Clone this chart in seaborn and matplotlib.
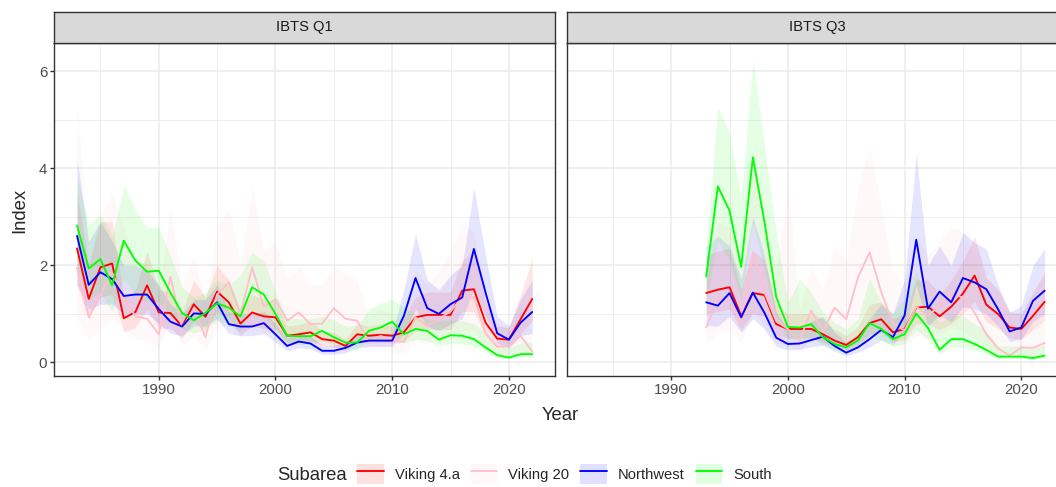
import numpy as np
import pandas as pd
import matplotlib
matplotlib.use('Agg')
import matplotlib.pyplot as plt
import seaborn as sns
from matplotlib.lines import Line2D
from matplotlib.patches import Patch
from matplotlib.legend_handler import HandlerTuple

# Subareas and colours (legend order)
subareas = ['Viking 4.a', 'Viking 20', 'Northwest', 'South']
colours = ['#FF0000', '#FFC0CB', '#0000FF', '#00FF00']

# ---- IBTS Q1, 1983-2022 ----
years_q1 = list(range(1983, 2023))

q1_viking4a = [2.35, 1.31, 1.96, 2.04, 0.91, 1.04, 1.59, 1.03, 1.02, 0.74,
               1.20, 0.94, 1.46, 1.24, 0.80, 1.03, 0.95, 0.93, 0.55, 0.58,
               0.62, 0.48, 0.45, 0.34, 0.58, 0.55, 0.57, 0.55, 0.62, 0.93,
               0.98, 0.98, 0.98, 1.48, 1.51, 0.82, 0.49, 0.47, 0.89, 1.31]
q1_viking4a_hi = [3.5, 2.0, 2.9, 2.9, 1.35, 1.5, 2.3, 1.5, 1.45, 1.05,
                  1.7, 1.35, 2.0, 1.7, 1.1, 1.4, 1.3, 1.25, 0.75, 0.78,
                  0.85, 0.66, 0.62, 0.48, 0.8, 0.75, 0.78, 0.75, 0.9, 1.35,
                  1.45, 1.45, 1.45, 2.1, 2.3, 1.25, 0.75, 0.72, 1.4, 2.15]
q1_viking4a_lo = [1.6, 0.9, 1.35, 1.4, 0.62, 0.72, 1.1, 0.7, 0.7, 0.5,
                  0.85, 0.65, 1.05, 0.9, 0.57, 0.75, 0.7, 0.68, 0.4, 0.42,
                  0.45, 0.35, 0.33, 0.24, 0.42, 0.4, 0.41, 0.4, 0.43, 0.65,
                  0.68, 0.68, 0.68, 1.05, 1.05, 0.55, 0.33, 0.32, 0.6, 0.85]

q1_viking20 = [1.95, 0.93, 1.40, 1.85, 1.35, 0.95, 0.90, 0.58, 1.77, 0.70,
               1.10, 0.52, 1.40, 1.65, 1.00, 1.96, 1.15, 1.30, 0.86, 1.03,
               0.79, 0.80, 1.12, 0.90, 0.86, 0.42, 0.55, 0.45, 0.42, 0.93,
               0.75, 0.90, 1.05, 1.35, 1.35, 0.60, 0.32, 0.33, 0.55, 0.22]
q1_viking20_hi = [5.4, 2.2, 3.0, 3.5, 2.8, 2.1, 2.0, 1.4, 3.2, 1.6,
                  2.2, 1.2, 2.8, 3.2, 2.0, 3.65, 2.3, 2.5, 1.7, 2.0,
                  1.6, 1.6, 2.0, 1.8, 1.7, 0.9, 1.1, 1.0, 0.9, 1.9,
                  1.6, 1.9, 2.3, 2.9, 2.7, 1.3, 0.8, 0.7, 1.2, 0.6]
q1_viking20_lo = [0.9, 0.45, 0.7, 0.9, 0.7, 0.5, 0.45, 0.3, 0.9, 0.35,
                  0.55, 0.25, 0.7, 0.8, 0.5, 1.0, 0.6, 0.65, 0.45, 0.5,
                  0.4, 0.4, 0.55, 0.45, 0.42, 0.2, 0.28, 0.22, 0.2, 0.45,
                  0.38, 0.45, 0.5, 0.65, 0.65, 0.3, 0.17, 0.15, 0.27, 0.1]

q1_northwest = [2.61, 1.60, 1.86, 1.72, 1.37, 1.40, 1.40, 1.10, 0.84, 0.74,
                1.01, 1.00, 1.24, 0.79, 0.74, 0.74, 0.81, 0.58, 0.34, 0.43,
                0.39, 0.24, 0.24, 0.30, 0.41, 0.45, 0.45, 0.45, 0.96, 1.74,
                1.12, 1.00, 1.20, 1.34, 2.34, 1.44, 0.60, 0.47, 0.82, 1.04]
q1_northwest_hi = [4.2, 2.5, 2.9, 2.5, 2.0, 2.0, 1.9, 1.6, 1.2, 1.0,
                   1.3, 1.3, 1.6, 1.05, 1.0, 1.0, 1.05, 0.8, 0.5, 0.6,
                   0.55, 0.35, 0.35, 0.42, 0.55, 0.6, 0.6, 0.6, 1.5, 2.65,
                   1.7, 1.5, 1.8, 2.0, 3.6, 2.2, 0.95, 0.75, 1.3, 1.7]
q1_northwest_lo = [1.6, 1.1, 1.2, 1.2, 1.0, 1.0, 1.0, 0.8, 0.6, 0.55,
                   0.75, 0.75, 0.9, 0.6, 0.55, 0.55, 0.6, 0.42, 0.24, 0.3,
                   0.28, 0.17, 0.17, 0.2, 0.3, 0.33, 0.33, 0.33, 0.6, 1.1,
                   0.75, 0.65, 0.8, 0.9, 1.5, 0.95, 0.4, 0.3, 0.55, 0.6]

q1_south = [2.82, 1.94, 2.13, 1.59, 2.51, 2.10, 1.87, 1.89, 1.44, 1.02,
            0.87, 1.02, 1.22, 1.13, 0.95, 1.55, 1.40, 1.00, 0.55, 0.54,
            0.54, 0.65, 0.52, 0.41, 0.41, 0.65, 0.72, 0.84, 0.58, 0.69,
            0.65, 0.47, 0.56, 0.55, 0.48, 0.31, 0.15, 0.10, 0.17, 0.17]
q1_south_hi = [3.8, 2.85, 3.05, 2.6, 3.65, 3.15, 2.78, 2.8, 2.2, 1.55,
               1.35, 1.45, 1.7, 1.6, 1.8, 2.27, 2.1, 1.45, 0.93, 0.9,
               0.9, 0.95, 0.88, 0.75, 0.75, 1.1, 1.22, 1.3, 1.15, 1.0,
               0.9, 0.85, 0.88, 0.86, 0.8, 0.6, 0.35, 0.3, 0.4, 0.42]
q1_south_lo = [2.0, 1.3, 1.45, 1.05, 1.7, 1.4, 1.25, 1.25, 0.95, 0.7,
               0.6, 0.7, 0.85, 0.8, 0.65, 1.05, 0.95, 0.7, 0.38, 0.37,
               0.37, 0.45, 0.36, 0.28, 0.28, 0.45, 0.5, 0.58, 0.4, 0.48,
               0.45, 0.33, 0.39, 0.38, 0.33, 0.21, 0.1, 0.07, 0.12, 0.12]

# ---- IBTS Q3, 1993-2022 ----
years_q3 = list(range(1993, 2023))

q3_viking4a = [1.43, 1.50, 1.55, 0.96, 1.43, 1.39, 0.79, 0.69, 0.69, 0.69,
               0.58, 0.45, 0.36, 0.52, 0.81, 0.89, 0.62, 0.69, 1.13, 1.15,
               0.95, 1.15, 1.42, 1.79, 1.19, 1.00, 0.72, 0.69, 0.96, 1.25]
q3_viking4a_hi = [2.2, 2.3, 2.35, 1.5, 2.3, 2.1, 1.2, 1.0, 1.0, 1.02,
                  0.9, 0.68, 0.55, 0.75, 1.2, 1.25, 0.9, 1.0, 1.7, 1.7,
                  1.4, 1.7, 2.1, 2.6, 1.75, 1.5, 1.05, 1.0, 1.45, 1.85]
q3_viking4a_lo = [1.0, 1.05, 1.1, 0.68, 1.0, 0.95, 0.55, 0.5, 0.5, 0.5,
                  0.42, 0.32, 0.25, 0.36, 0.58, 0.62, 0.42, 0.47, 0.8, 0.8,
                  0.67, 0.8, 1.0, 1.25, 0.84, 0.7, 0.5, 0.48, 0.67, 0.88]

q3_viking20 = [0.72, 1.30, 1.35, 0.82, 2.27, 1.44, 0.85, 0.69, 0.45, 1.07,
               0.65, 1.13, 0.89, 1.75, 2.27, 1.45, 0.80, 0.66, 1.15, 0.96,
               1.17, 1.41, 1.34, 1.03, 0.58, 0.29, 0.14, 0.31, 0.30, 0.40]
q3_viking20_hi = [1.6, 2.9, 2.8, 1.9, 4.3, 3.0, 1.9, 3.7, 1.1, 2.0,
                  1.5, 2.4, 2.1, 3.6, 4.5, 3.2, 1.9, 1.6, 2.6, 2.2,
                  2.5, 2.8, 2.7, 2.2, 1.3, 0.7, 0.4, 0.8, 0.75, 0.9]
q3_viking20_lo = [0.35, 0.65, 0.65, 0.4, 1.1, 0.7, 0.4, 0.35, 0.22, 0.5,
                  0.32, 0.55, 0.45, 0.85, 1.1, 0.7, 0.4, 0.32, 0.55, 0.47,
                  0.57, 0.7, 0.65, 0.5, 0.28, 0.14, 0.07, 0.15, 0.15, 0.2]

q3_northwest = [1.24, 1.17, 1.43, 0.93, 1.44, 1.02, 0.51, 0.38, 0.39, 0.46,
                0.53, 0.34, 0.20, 0.31, 0.48, 0.67, 0.52, 0.97, 2.53, 1.11,
                1.46, 1.24, 1.74, 1.65, 1.51, 1.10, 0.64, 0.72, 1.27, 1.48]
q3_northwest_hi = [2.4, 2.6, 2.4, 1.72, 3.0, 2.2, 1.03, 0.7, 0.72, 0.85,
                   0.95, 0.62, 0.42, 0.58, 0.9, 1.2, 1.0, 1.7, 4.3, 2.0,
                   2.4, 2.0, 2.68, 2.47, 2.34, 1.6, 1.03, 1.17, 2.0, 2.34]
q3_northwest_lo = [0.76, 0.75, 0.95, 0.62, 0.9, 0.68, 0.33, 0.26, 0.27, 0.32,
                   0.36, 0.23, 0.14, 0.21, 0.32, 0.46, 0.36, 0.65, 1.6, 0.75,
                   0.98, 0.83, 1.15, 1.1, 1.0, 0.75, 0.43, 0.48, 0.85, 1.0]

q3_south = [1.77, 3.63, 3.13, 1.97, 4.23, 2.89, 1.35, 0.73, 0.72, 0.79,
            0.52, 0.38, 0.31, 0.45, 0.81, 0.69, 0.48, 0.58, 1.01, 0.71,
            0.26, 0.48, 0.48, 0.38, 0.26, 0.12, 0.12, 0.12, 0.09, 0.14]
q3_south_hi = [2.4, 5.26, 4.74, 3.37, 6.25, 4.47, 2.68, 1.24, 1.72, 1.45,
               1.03, 0.82, 0.69, 0.9, 1.75, 1.24, 1.03, 1.3, 1.86, 1.3,
               0.82, 0.96, 0.96, 0.8, 0.65, 0.34, 0.34, 0.34, 0.3, 0.36]
q3_south_lo = [1.25, 2.5, 2.1, 1.3, 2.9, 1.9, 0.9, 0.5, 0.48, 0.53,
               0.36, 0.26, 0.21, 0.3, 0.55, 0.46, 0.32, 0.39, 0.68, 0.47,
               0.17, 0.32, 0.32, 0.25, 0.17, 0.08, 0.08, 0.08, 0.06, 0.09]

# Build a long table from the arrays
series = {
    ('IBTS Q1', 'Viking 4.a'): (years_q1, q1_viking4a, q1_viking4a_lo, q1_viking4a_hi),
    ('IBTS Q1', 'Viking 20'): (years_q1, q1_viking20, q1_viking20_lo, q1_viking20_hi),
    ('IBTS Q1', 'Northwest'): (years_q1, q1_northwest, q1_northwest_lo, q1_northwest_hi),
    ('IBTS Q1', 'South'): (years_q1, q1_south, q1_south_lo, q1_south_hi),
    ('IBTS Q3', 'Viking 4.a'): (years_q3, q3_viking4a, q3_viking4a_lo, q3_viking4a_hi),
    ('IBTS Q3', 'Viking 20'): (years_q3, q3_viking20, q3_viking20_lo, q3_viking20_hi),
    ('IBTS Q3', 'Northwest'): (years_q3, q3_northwest, q3_northwest_lo, q3_northwest_hi),
    ('IBTS Q3', 'South'): (years_q3, q3_south, q3_south_lo, q3_south_hi),
}
frames = []
for (survey, sub), (yrs, val, lo, hi) in series.items():
    frames.append(pd.DataFrame({'Survey': survey, 'Subarea': sub, 'Year': yrs,
                                'Index': val, 'lo': lo, 'hi': hi}))
df = pd.concat(frames, ignore_index=True)

sns.set_style('white')
plt.rcParams['font.family'] = ['Liberation Sans', 'DejaVu Sans']

W, H = 1056, 487
fig = plt.figure(figsize=(W / 100, H / 100), dpi=100)

palette = dict(zip(subareas, colours))
grey20 = '#333333'

panel_l = [54.3, 566.7]
panel_w = 500.7
panel_top, panel_bot = 43.3, 376.0
strip_top = 11.7

for i, survey in enumerate(['IBTS Q1', 'IBTS Q3']):
    ax = fig.add_axes([panel_l[i] / W, (H - panel_bot) / H,
                       panel_w / W, (panel_bot - panel_top) / H])
    ax.set_facecolor('white')
    sub_df = df[df['Survey'] == survey]

    # ribbons first
    for s in subareas:
        d = sub_df[sub_df['Subarea'] == s]
        ax.fill_between(d['Year'], d['lo'], d['hi'], color=palette[s],
                        alpha=0.1, linewidth=0, zorder=2)
    sns.lineplot(data=sub_df, x='Year', y='Index', hue='Subarea',
                 hue_order=subareas, palette=palette, estimator=None,
                 linewidth=1.35, legend=False, ax=ax, zorder=3)

    ax.set_xlim(1981.05, 2023.95)
    ax.set_ylim(-0.28, 6.58)
    ax.set_xticks([1990, 2000, 2010, 2020])
    ax.set_xticks([1985, 1995, 2005, 2015], minor=True)
    ax.set_yticks([0, 2, 4, 6])
    ax.set_yticks([1, 3, 5], minor=True)
    ax.grid(which='major', color='#EBEBEB', linewidth=1.1, zorder=0)
    ax.grid(which='minor', color='#EBEBEB', linewidth=0.55, zorder=0)
    ax.set_axisbelow(True)
    for sp in ax.spines.values():
        sp.set_color(grey20)
        sp.set_linewidth(1.0)
        sp.set_zorder(5)
    ax.tick_params(which='major', length=3, width=1.0, color=grey20,
                   labelcolor='#4D4D4D', labelsize=10.8, pad=2)
    ax.tick_params(which='minor', length=0)
    ax.tick_params(axis='y', left=(i == 0), labelleft=(i == 0))
    ax.tick_params(axis='x', bottom=True)
    ax.set_xlabel('')
    ax.set_ylabel('')

    # facet strip
    sax = fig.add_axes([panel_l[i] / W, (H - panel_top) / H,
                        panel_w / W, (panel_top - strip_top) / H])
    sax.set_facecolor('#D9D9D9')
    sax.set_xticks([])
    sax.set_yticks([])
    for sp in sax.spines.values():
        sp.set_color(grey20)
        sp.set_linewidth(1.0)
    sax.text(0.5, 0.5, survey, ha='center', va='center', fontsize=10.6,
             color='#1A1A1A', transform=sax.transAxes)

fig.text(560 / W, (H - 416) / H, 'Year', ha='center', va='center', fontsize=13.3)
fig.text(20 / W, (H - 210) / H, 'Index', ha='center', va='center',
         rotation=90, fontsize=13.3)

# legend at the bottom
fig.text(277 / W, (H - 476) / H, 'Subarea', ha='left', va='center', fontsize=13.3)
handles = [(Patch(facecolor=c, alpha=0.12, edgecolor='none'),
            Line2D([], [], color=c, linewidth=1.35)) for c in colours]
fig.legend(handles, subareas, loc='center left',
           bbox_to_anchor=(357 / W, (H - 474) / H), ncol=4, frameon=False,
           fontsize=10.6, handlelength=1.8, handleheight=1.8,
           handletextpad=0.75, columnspacing=0.75, borderpad=0,
           borderaxespad=0,
           handler_map={tuple: HandlerTuple(ndivide=1, pad=0)})

fig.savefig('out.png', dpi=100)
